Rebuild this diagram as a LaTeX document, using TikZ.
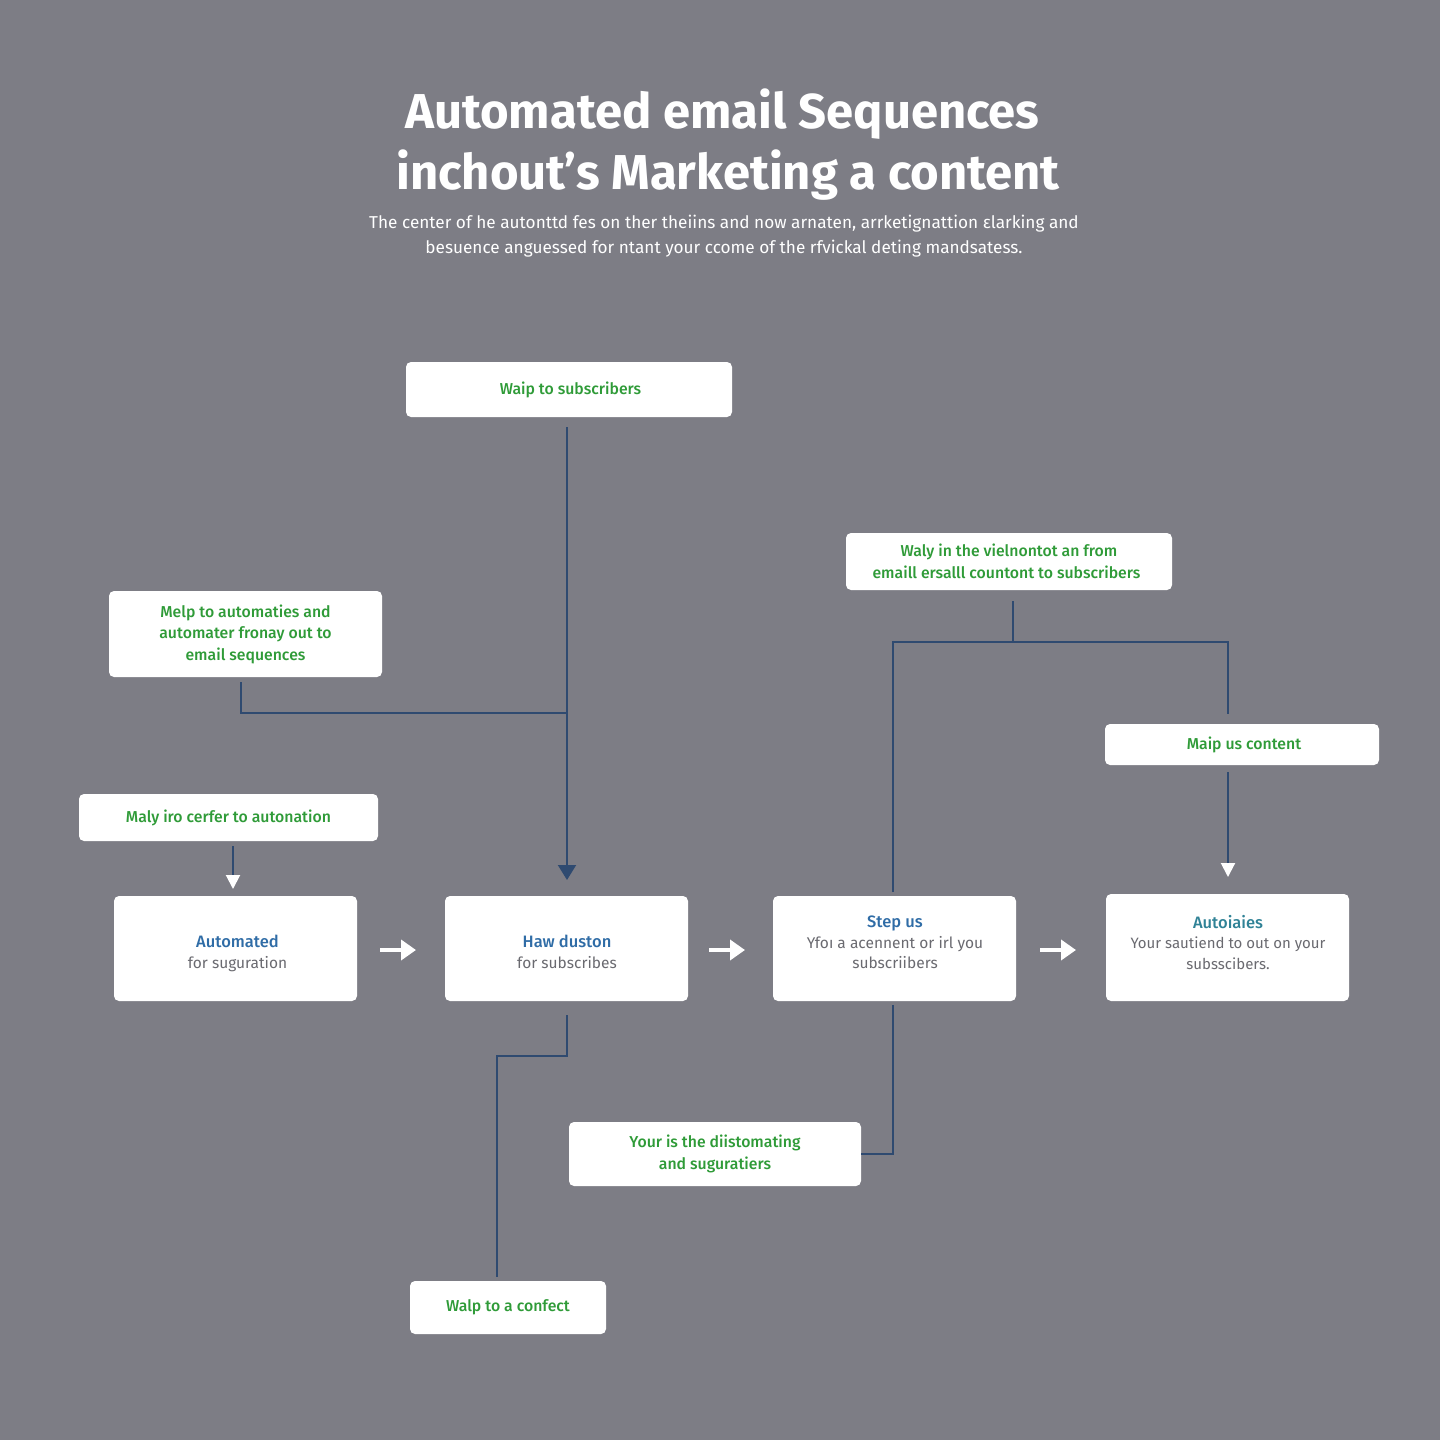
\documentclass[tikz,border=0pt]{standalone}
\usepackage{fontspec}
\setmainfont{Fira Sans}
\newfontfamily\medfont{Fira Sans Medium}
\usetikzlibrary{arrows.meta,calc}
\definecolor{bgc}{HTML}{7D7D85}
\definecolor{linec}{HTML}{2F4A70}
\definecolor{greenc}{HTML}{2F9B38}
\definecolor{bluec}{HTML}{2F6CA6}
\definecolor{tealc}{HTML}{2F8296}
\definecolor{grayc}{HTML}{6A6A70}
\tikzset{
  x=1pt,y=-1pt,
  card/.style={draw=none,fill=white,rounded corners=5pt,inner sep=0pt,align=center,anchor=center},
  greenlabel/.style={card,text=greenc,font=\fontsize{15.8}{21.5}\selectfont\medfont},
  stepcard/.style={card,minimum width=243pt},
  steptext/.style={text=grayc,font=\fontsize{15.5}{20.5}\selectfont,align=center},
  wire/.style={draw=linec,line width=2pt},
  darktip/.style={wire,-{Triangle[width=18pt,length=15pt,color=linec]}},
  whitetip/.style={wire,-{Triangle[width=14pt,length=14pt,color=white]}},
  flow/.style={draw=white,line width=4pt,-{Triangle[width=20pt,length=15pt,color=white]}},
  titletext/.style={text=white,font=\fontsize{49}{60.5}\selectfont\bfseries,align=center},
  subtext/.style={text=white,font=\fontsize{17.2}{25.5}\selectfont,align=center}
}
\newcommand{\hd}[2]{\textcolor{#1}{\fontsize{16.5}{20.5}\selectfont\medfont #2}}
\begin{document}
\begin{tikzpicture}
\useasboundingbox (0,0) rectangle (1440,1440);
\fill[bgc] (0,0) rectangle (1440,1440);
\node[titletext] (title) at (728,144.5) {Automated email Sequences\hspace*{11pt}\\inchout’s Marketing a content};
\node[subtext] (sub) at (724,236) {The center of he autonttd fes on ther theiins and now arnaten, arrketignattion ɛlarking and\\besuence anguessed for ntant your ccome of the rfvickal deting mandsatess.};

\node[greenlabel,minimum width=326pt,minimum height=55pt] (top) at (569,389.5) {\hspace*{3pt}Waip to subscribers};
\node[greenlabel,minimum width=273pt,minimum height=86pt] (left) at (245.5,634) {\raisebox{0pt}[\height][\depth]{Melp to automaties and}\\automater fronay out to\\email sequences};
\node[greenlabel,minimum width=326pt,minimum height=57pt] (rtop) at (1009,561.5) {Waly in the vielnontot an from\\emaill ersalll countont to subscribers\hspace*{5pt}};
\node[greenlabel,minimum width=274pt,minimum height=41pt] (map) at (1242,744.5) {\hspace*{4pt}Maip us content};
\node[greenlabel,minimum width=299pt,minimum height=47pt] (maly) at (228.5,817.5) {Maly iro cerfer to autonation};
\node[greenlabel,minimum width=292pt,minimum height=64pt] (your) at (715,1154) {Your is the diistomating\\and suguratiers};
\node[greenlabel,minimum width=196pt,minimum height=53pt] (walp) at (508,1307.5) {\raisebox{-2pt}{Walp to a confect}};

\node[stepcard,minimum height=105pt] (a) at (235.5,948.5) {};
\node[stepcard,minimum height=105pt] (b) at (566.5,948.5) {};
\node[stepcard,minimum height=105pt] (c) at (894.5,948.5) {};
\node[stepcard,minimum height=107pt] (d) at (1227.5,947.5) {};
\node[steptext] (at) at (237.5,953.5) {\hd{bluec}{Automated}\\for suguration};
\node[steptext] (bt) at (567,952) {\hd{bluec}{Haw duston}\\for subscribes};
\node[steptext] (ct) at (895,942.5) {\hd{bluec}{Step us}\\Yfoı a acennent or irl you\\subscriibers};
\node[steptext,font=\fontsize{15}{20.5}\selectfont] (dt) at (1228,942.5) {\hd{tealc}{Autoiaies}\\Your sautiend to out on your\\subsscibers.};

% free ends of connectors, which stop short of the cards
\coordinate (topS) at (567,427);
\coordinate (topE) at (567,880);
\coordinate (leftS) at (241,682);
\coordinate (leftJ) at (241,713);
\coordinate (leftE) at (567,713);
\coordinate (rtopS) at (1013,601);
\coordinate (rtopJ) at (1013,642);
\coordinate (cUp) at (893,892);
\coordinate (jl) at (893,642);
\coordinate (jr) at (1228,642);
\coordinate (jrE) at (1228,714);
\coordinate (mapS) at (1228,772);
\coordinate (mapE) at (1228,877);
\coordinate (malyS) at (233,846);
\coordinate (malyE) at (233,889);
\coordinate (bS) at (567,1015);
\coordinate (b1) at (567,1056);
\coordinate (b2) at (497,1056);
\coordinate (bE) at (497,1277);
\coordinate (cS) at (893,1005);
\coordinate (c1) at (893,1154);

\draw[darktip] (topS) -- (topE);
\draw[wire] (leftS) -- (leftJ) -- (leftE);
\draw[wire] (rtopS) -- (rtopJ);
\draw[wire] (cUp) -- (jl) -- (jr) -- (jrE);
\draw[whitetip] (mapS) -- (mapE);
\draw[whitetip] (malyS) -- (malyE);
\draw[wire] (bS) -- (b1) -- (b2) -- (bE);
\draw[wire] (cS) -- (c1) -- (your.east |- c1);

\coordinate (f1s) at (380,950); \coordinate (f1e) at (416,950);
\coordinate (f2s) at (709,950); \coordinate (f2e) at (745,950);
\coordinate (f3s) at (1040,950); \coordinate (f3e) at (1076,950);
\draw[flow] (f1s) -- (f1e);
\draw[flow] (f2s) -- (f2e);
\draw[flow] (f3s) -- (f3e);
\end{tikzpicture}
\end{document}
